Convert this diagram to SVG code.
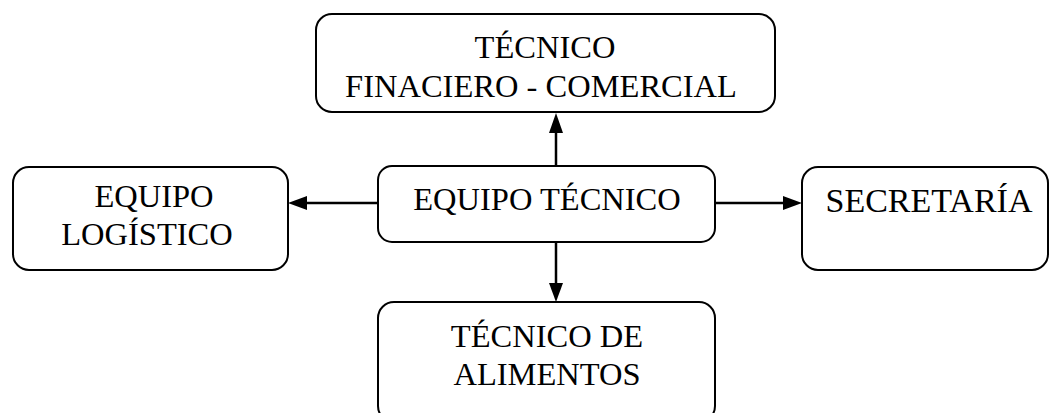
<svg xmlns="http://www.w3.org/2000/svg" width="1060" height="413" viewBox="0 0 1060 413">
<style>
.box{fill:#fff;stroke:#000;stroke-width:2}
.t{font-family:"Liberation Serif","Times New Roman",serif;font-size:32.5px;fill:#000;text-anchor:middle}
.ln{stroke:#000;stroke-width:2.5;fill:none}
</style>
<g id="connectors">
<line class="ln" x1="556" y1="166" x2="556" y2="130"/>
<path d="M549,133 L556,113 L563,133 z"/>
<line class="ln" x1="556" y1="242" x2="556" y2="285"/>
<path d="M549,283 L556,302 L563,283 z"/>
<line class="ln" x1="378" y1="203" x2="305" y2="203"/>
<path d="M307,196 L288,203 L307,210 z"/>
<line class="ln" x1="715" y1="203" x2="785" y2="203"/>
<path d="M783,196 L802,203 L783,210 z"/>
</g>
<g id="top">
<rect class="box" x="316" y="14" width="459" height="98" rx="16"/>
<text class="t" x="545" y="58">TÉCNICO</text>
<text class="t" x="541" y="97">FINACIERO - COMERCIAL</text>
</g>
<g id="center">
<rect class="box" x="378" y="166" width="337" height="76" rx="14"/>
<text class="t" x="547" y="210">EQUIPO TÉCNICO</text>
</g>
<g id="left">
<rect class="box" x="13" y="167" width="275" height="103" rx="16"/>
<text class="t" x="154" y="207">EQUIPO</text>
<text class="t" x="147" y="245">LOGÍSTICO</text>
</g>
<g id="right">
<rect class="box" x="802" y="167" width="246" height="103" rx="16"/>
<text class="t" x="929" y="212" style="font-size:34px">SECRETARÍA</text>
</g>
<g id="bottom">
<rect class="box" x="378" y="302" width="337" height="120" rx="16"/>
<text class="t" x="547" y="347">TÉCNICO DE</text>
<text class="t" x="547" y="385">ALIMENTOS</text>
</g>
</svg>
